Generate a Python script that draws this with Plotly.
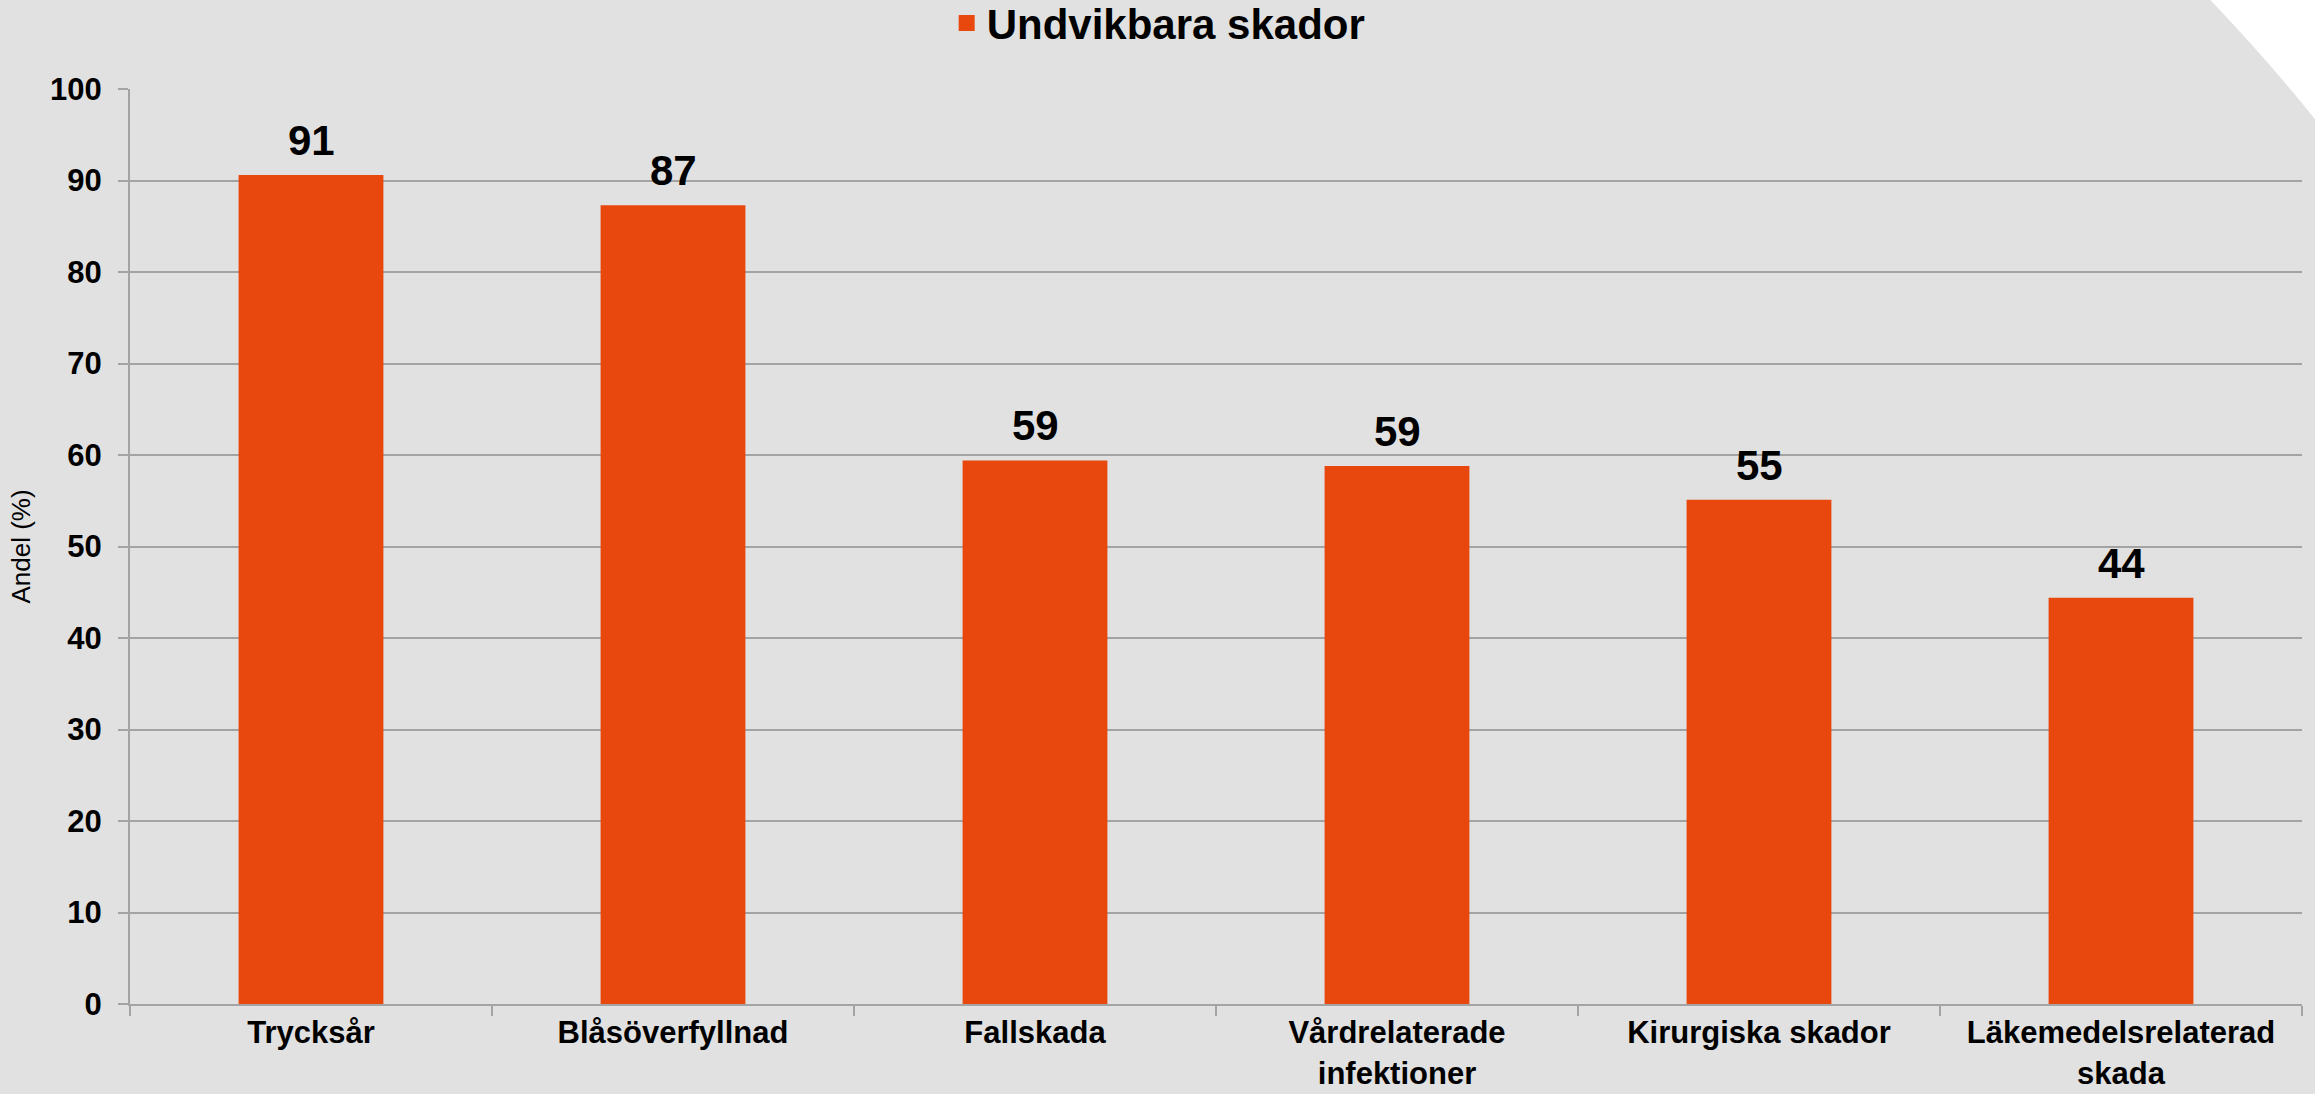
import plotly.graph_objects as go

categories = ["Trycksår", "Blåsöverfyllnad", "Fallskada", "Vårdrelaterade<br>infektioner",
              "Kirurgiska skador", "Läkemedelsrelaterad<br>skada"]
values = [90.6, 87.3, 59.4, 58.8, 55.1, 44.4]
series_name = "Undvikbara skador"
y_ticks = [0, 10, 20, 30, 40, 50, 60, 70, 80, 90, 100]

FONT = "Liberation Sans, Arial, sans-serif"
BAR = "#E8470D"
GRID = "#A3A3A3"
BG = "#E1E1E1"

fig = go.Figure()
fig.add_trace(go.Bar(
    x=categories, y=values, name=series_name,
    marker=dict(color=BAR, line=dict(width=0)),
    showlegend=False,
))
# legend entry (bigger square symbol than the bar default)
fig.add_trace(go.Scatter(
    x=[None], y=[None], mode="markers", name=series_name,
    marker=dict(symbol="square", size=16, color=BAR),
    showlegend=True,
))

for c, v in zip(categories, values):
    fig.add_annotation(
        x=c, y=v, text=f"{v:.0f}", showarrow=False, yanchor="bottom", yshift=9,
        font=dict(family=FONT, size=42, color="black", weight="bold"),
    )

fig.update_layout(
    width=2315, height=1094,
    paper_bgcolor=BG, plot_bgcolor="rgba(0,0,0,0)",
    margin=dict(l=130, r=13, t=89, b=90, autoexpand=False),
    bargap=0.6,
    font=dict(family=FONT, color="black"),
    showlegend=True,
    legend=dict(orientation="h", x=0.376, xanchor="left", y=1.109, yanchor="top",
                itemsizing="trace",
                font=dict(family=FONT, size=42, color="black", weight="bold"),
                bgcolor="rgba(0,0,0,0)"),
    xaxis=dict(
        tickson="boundaries", ticks="outside", ticklen=10, tickcolor=GRID, tickwidth=2,
        showline=True, linecolor=GRID, linewidth=2, showgrid=False,
        ticklabelstandoff=0,
        tickfont=dict(family=FONT, size=31, color="black", weight="bold"),
    ),
    yaxis=dict(
        range=[0, 100], tickvals=y_ticks, ticks="outside", ticklen=10, tickcolor=GRID, tickwidth=2,
        showline=True, linecolor=GRID, linewidth=2,
        showgrid=True, gridcolor=GRID, gridwidth=2, zeroline=False,
        ticklabelstandoff=10,
        tickfont=dict(family=FONT, size=31, color="black", weight="bold"),
        title=dict(text="Andel (%)", font=dict(family=FONT, size=26, color="black"), standoff=12),
    ),
    shapes=[dict(
        type="path", xref="paper", yref="paper", layer="below",
        path="M 0.9567 1.1 Q 0.985 1.03 1.01 0.955 L 1.01 1.1 Z",
        fillcolor="white", line=dict(width=0),
    )],
)

fig.write_html("out.html", config={"displayModeBar": False},
               post_script="document.body.style.margin='0';document.body.style.overflow='hidden';")
